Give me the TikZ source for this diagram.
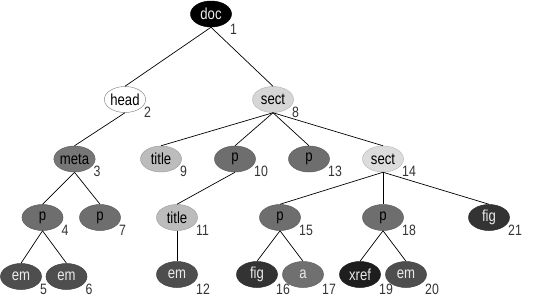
\documentclass[tikz,border=0pt]{standalone}
\usepackage{fontspec}
\setmainfont[FakeStretch=0.82]{Liberation Sans}
\usetikzlibrary{shapes.geometric}
\definecolor{cdoc}{HTML}{000000}
\definecolor{csectA}{HTML}{D6D6D6}
\definecolor{cmeta}{HTML}{767676}
\definecolor{ctitle}{HTML}{BCBCBC}
\definecolor{cp}{HTML}{6E6E6E}
\definecolor{csectB}{HTML}{DCDCDC}
\definecolor{cem}{HTML}{4E4E4E}
\definecolor{cfig}{HTML}{333333}
\definecolor{ca}{HTML}{707070}
\definecolor{cxref}{HTML}{1E1E1E}
\definecolor{cnum}{HTML}{333333}
\tikzset{
  x=1bp, y=-1bp,
  elem/.style={ellipse, minimum width=41bp, minimum height=26bp, inner sep=0pt,
     font=\fontsize{16bp}{18bp}\selectfont, line width=0.5pt},
  light/.style={elem, fill=#1, draw=#1!85!black, text=black},
  dark/.style={elem, fill=#1, draw=#1!85!black, text=white!92!black},
  num/.style={anchor=west, inner sep=0pt, text=cnum, font=\fontsize{15bp}{17bp}\selectfont},
  edge/.style={draw=black, line width=0.7pt}
}
\begin{document}
\begin{tikzpicture}
\useasboundingbox (0,0) rectangle (540,301);
% nodes
\node[dark=cdoc] (n1) at (211,14) {doc};
\node[elem, fill=white, draw=black!45] (n2) at (125,99.5) {head};
\node[light=csectA] (n8) at (273,99.5) {sect};
\node[light=cmeta] (n3) at (74.5,159) {meta};
\node[light=ctitle] (n9) at (161,159) {title};
\node[light=cp] (n10) at (235,159) {p};
\node[light=cp] (n13) at (309,159) {p};
\node[light=csectB] (n14) at (383,159) {sect};
\node[light=cp] (n4) at (42.5,217.5) {p};
\node[light=cp] (n7) at (100,217.5) {p};
\node[light=ctitle] (n11) at (177,217.5) {title};
\node[light=cp] (n15) at (280,217.5) {p};
\node[light=cp] (n18) at (383,217.5) {p};
\node[dark=cfig] (n21) at (489,217.5) {fig};
\node[dark=cem] (n5) at (21,276.5) {em};
\node[dark=cem] (n6) at (66.5,276.5) {em};
\node[dark=cem] (n12) at (177,274.5) {em};
\node[dark=cfig] (n16) at (257,274.5) {fig};
\node[dark=ca] (n17) at (303,274.5) {a};
\node[dark=cxref] (n19) at (360,274.5) {xref};
\node[dark=cem] (n20) at (406,274.5) {em};
% numbers
\foreach \n in {2,8,3,9,10,13,14,4,7,11,15,18,21,5,6}
  \node[num] (l\n) at ([shift={(19bp,-12.5bp)}]n\n.center) {\n};
\foreach \n in {1,12,16,17,19,20}
  \node[num] (l\n) at ([shift={(19bp,-15bp)}]n\n.center) {\n};
% edges
\draw[edge] (n1.south) -- (n2.north);
\draw[edge] (n1.south) -- (n8.north);
\draw[edge] (n2.south) -- (n3.north);
\draw[edge] (n3.south) -- (n4.north);
\draw[edge] (n3.south) -- (n7.north);
\draw[edge] (n4.south) -- (n5.north);
\draw[edge] (n4.south) -- (n6.north);
\draw[edge] (n8.south) -- (n9.north);
\draw[edge] (n8.south) -- (n10.north);
\draw[edge] (n8.south) -- (n13.north);
\draw[edge] (n8.south) -- (n14.north);
\draw[edge] (n10.south) -- (n11.north);
\draw[edge] (n11.south) -- (n12.north);
\draw[edge] (n14.south) -- (n15.north);
\draw[edge] (n14.south) -- (n18.north);
\draw[edge] (n14.south) -- (n21.north);
\draw[edge] (n15.south) -- (n16.north);
\draw[edge] (n15.south) -- (n17.north);
\draw[edge] (n18.south) -- (n19.north);
\draw[edge] (n18.south) -- (n20.north);
\end{tikzpicture}
\end{document}
